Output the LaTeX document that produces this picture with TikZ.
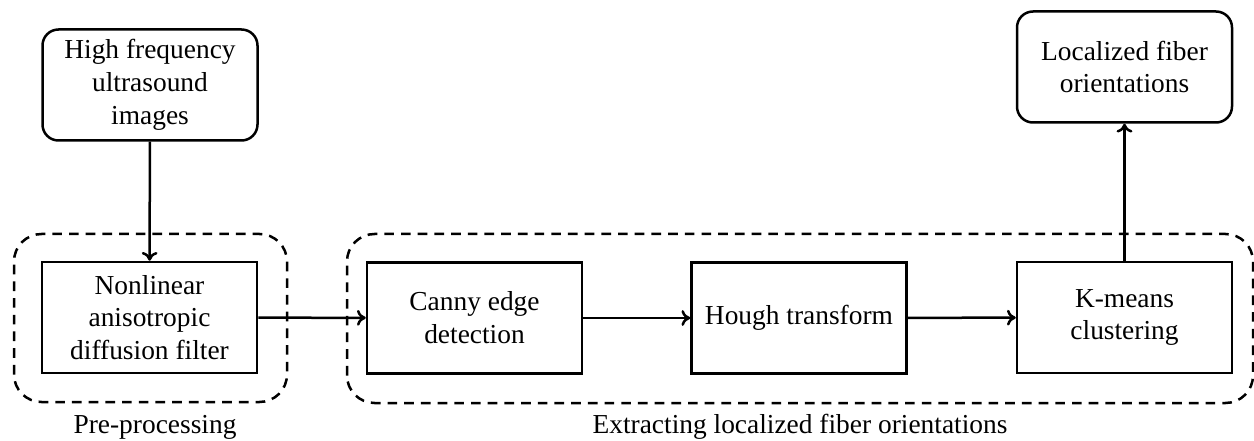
\documentclass[tikz,border=0pt]{standalone}
\usepackage{fontspec}
\setmainfont{Liberation Serif}
\usetikzlibrary{arrows.meta}

\begin{document}
\begin{tikzpicture}[
  stage/.style={draw, line width=.5mm, minimum width=4.3cm, minimum height=2.22cm, align=center, font=\fontsize{15.6}{18.7}\selectfont},
  endbox/.style={stage, rounded corners=.32cm},
  group/.style={draw, dashed, dash pattern=on 5.5pt off 4pt, line width=.5mm, rounded corners=.55cm},
  flow/.style={draw, line width=.5mm, -{To[length=5pt,width=9pt]}},
  caption/.style={font=\fontsize{15.6}{18.7}\selectfont}]
\useasboundingbox (0,0) rectangle (25.08,8.8);
% groups
\draw[group] (0.28,0.76) rectangle (5.74,4.12);
\draw[group] (6.94,0.74) rectangle (25.06,4.12);
\path node[caption] (prelabel) at (3.1,0.26) {Pre-processing};
\path node[caption] (extlabel) at (16.0,0.26) {Extracting localized fiber orientations};
% boxes
\node[endbox] (images) at (3.0,7.1) {High frequency\\ultrasound\\images};
\node[endbox] (result) at (22.49,7.46) {Localized fiber\\orientations};
\node[stage] (filter) at (2.99,2.45) {Nonlinear\\anisotropic\\diffusion filter};
\node[stage] (canny) at (9.49,2.44) {Canny edge\\detection};
\node[stage] (hough) at (15.98,2.44) {Hough transform};
\node[stage] (kmeans) at (22.49,2.45) {K-means\\clustering};
% arrows
\draw[flow] (images) -- (filter);
\draw[flow] (filter) -- (canny);
\draw[flow] (canny) -- (hough);
\draw[flow] (hough) -- (kmeans);
\draw[flow] (kmeans) -- (result);
\end{tikzpicture}
\end{document}
